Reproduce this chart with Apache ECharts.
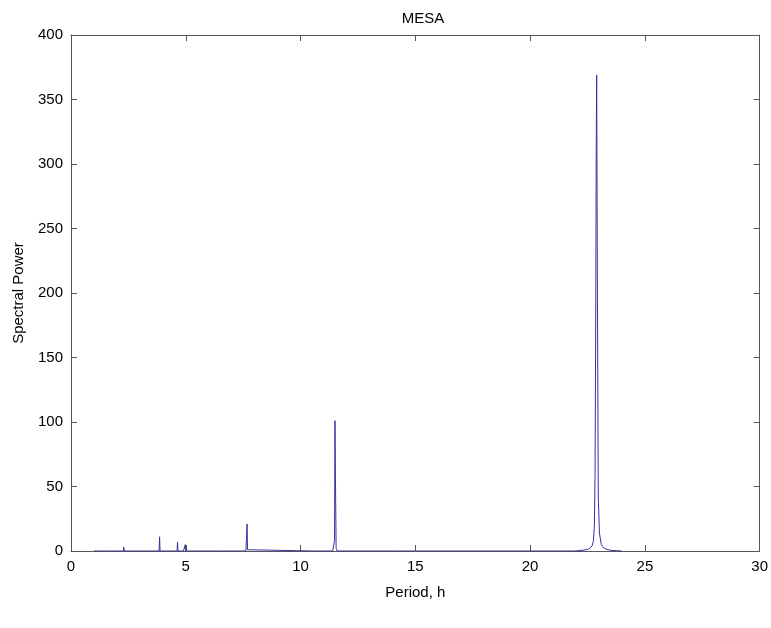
<!DOCTYPE html>
<html>
<head>
<meta charset="utf-8">
<title>MESA</title>
<script src="https://cdn.jsdelivr.net/npm/echarts@6/dist/echarts.min.js"></script>
<style>
    html, body { margin: 0; padding: 0; background: #fff; }
    #chartContainer { width: 771px; height: 628px; }
</style>
</head>
<body>
<div id="chartContainer"></div>
<script>
// period (h) and spectral power
var periods = [
    1.0, 1.40, 1.45, 1.50, 1.55, 1.60, 2.0, 2.28, 2.30, 2.32, 2.5, 2.54, 2.56, 2.58, 3.0,
    3.23, 3.25, 3.27, 3.7, 3.84, 3.86, 3.88, 4.4, 4.62, 4.64, 4.66, 4.9, 4.96, 4.98, 5.0,
    6.5, 7.62, 7.65, 7.67, 7.69, 7.72, 10.5, 11.40, 11.45, 11.48, 11.50, 11.52, 11.55, 11.60,
    14.0, 21.9, 22.1, 22.3, 22.5, 22.6, 22.7, 22.76, 22.8, 22.83, 22.86, 22.88, 22.9, 22.93,
    22.97, 23.02, 23.1, 23.2, 23.35, 23.5, 23.75, 24.0
];
var powers = [
    0, 0, 0.5, 0, 0.5, 0, 0, 0, 3, 0, 0, 0, 1.5, 0, 0,
    0, 1, 0, 0, 0, 11, 0, 0, 0, 7, 0, 0, 0, 5, 0,
    0, 0, 1, 21, 1, 0, 0, 0, 1, 8, 101, 57, 2, 0,
    0, 0, 0.3, 0.6, 1.2, 2, 4, 8, 20, 60, 190, 310, 369, 210,
    42, 14, 5, 2.5, 1.2, 0.6, 0.2, 0
];
var xTicks = [0, 5, 10, 15, 20, 25, 30];
var yTicks = [0, 50, 100, 150, 200, 250, 300, 350, 400];

var axisColor = '#555';
var fontFamily = '"Liberation Sans", Arial, sans-serif';

function initChart() {
    var lineData = periods.map(function (p, i) {
        return [p, powers[i]];
    });

    // box axes like matlab, ticks pointing in on every side
    var baseX = {
        type: 'value',
        min: xTicks[0],
        max: xTicks[xTicks.length - 1],
        interval: xTicks[1] - xTicks[0],
        axisLine: { show: true, onZero: false, lineStyle: { color: axisColor, width: 1 } },
        axisTick: { show: true, inside: true, length: 6, lineStyle: { color: axisColor } },
        splitLine: { show: false }
    };
    var baseY = {
        type: 'value',
        min: yTicks[0],
        max: yTicks[yTicks.length - 1],
        interval: yTicks[1] - yTicks[0],
        axisLine: { show: true, onZero: false, lineStyle: { color: axisColor, width: 1 } },
        axisTick: { show: true, inside: true, length: 6, lineStyle: { color: axisColor } },
        splitLine: { show: false }
    };

    var option = {
        animation: false,
        backgroundColor: '#fff',
        title: {
            text: 'MESA',
            left: 418,
            top: 6,
            textAlign: 'center',
            textStyle: { fontFamily: fontFamily, fontSize: 15, fontWeight: 'normal', color: '#000' }
        },
        grid: { left: 71, right: 6, top: 35, bottom: 77 },
        xAxis: [
            Object.assign({}, baseX, {
                position: 'bottom',
                name: 'Period, h',
                nameLocation: 'middle',
                nameGap: 34,
                nameTextStyle: { fontFamily: fontFamily, fontSize: 15, color: '#000' },
                axisLabel: { fontFamily: fontFamily, fontSize: 15, color: '#000', margin: 8 }
            }),
            Object.assign({}, baseX, { position: 'top', axisLabel: { show: false } })
        ],
        yAxis: [
            Object.assign({}, baseY, {
                position: 'left',
                name: 'Spectral Power',
                nameLocation: 'middle',
                nameGap: 45,
                nameTextStyle: { fontFamily: fontFamily, fontSize: 15, color: '#000' },
                axisLabel: { fontFamily: fontFamily, fontSize: 15, color: '#000', margin: 8 }
            }),
            Object.assign({}, baseY, { position: 'right', axisLabel: { show: false } })
        ],
        series: [{
            name: 'MESA',
            type: 'line',
            data: lineData,
            showSymbol: false,
            symbol: 'none',
            lineStyle: { color: '#3434a0', width: 1 },
            z: 1
        }]
    };

    var chart = echarts.init(document.getElementById('chartContainer'), null, { renderer: 'canvas' });
    chart.setOption(option);
}

initChart();
</script>
</body>
</html>
